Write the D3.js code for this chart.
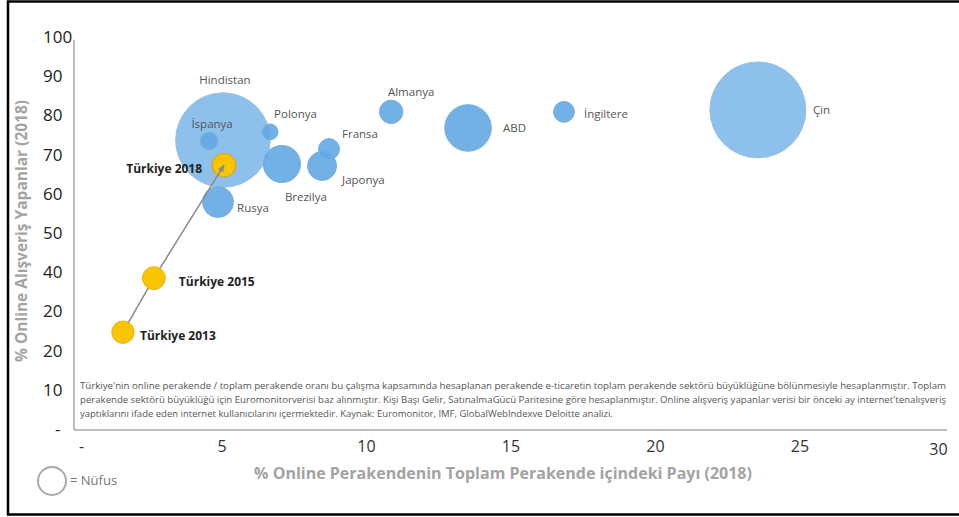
<!DOCTYPE html>
<html>
<head>
<meta charset="utf-8">
<script src="https://cdn.jsdelivr.net/npm/d3@7"></script>
<style>
  body { margin: 0; background: #fff; }
  svg { display: block; font-family: "Open Sans", sans-serif; }
</style>
</head>
<body>
<div class="chart"></div>
<script>
// countries (2018)
const countries = ["Hindistan", "Çin", "ABD", "Brezilya", "Rusya", "Japonya", "Almanya", "İngiltere", "Fransa", "İspanya", "Polonya"];
const onlineShare = [5.05, 23.56, 13.53, 7.09, 4.88, 8.48, 10.87, 16.85, 8.72, 4.57, 6.68];
const onlineShoppers = [73.7, 81.4, 76.8, 67.6, 57.9, 67.1, 80.9, 80.9, 71.4, 73.5, 75.8];
const population = [1353, 1393, 327, 209, 144, 127, 83, 66, 67, 46, 38];

// Türkiye over time
const turkeyLabels = ["Türkiye 2013", "Türkiye 2015", "Türkiye 2018"];
const turkeyShare = [1.59, 2.66, 5.09];
const turkeyShoppers = [24.7, 38.5, 67.3];
const turkeyPopulation = [76, 79, 82];

const xTicks = [0, 5, 10, 15, 20, 25, 30];
const xTickLabels = ["-", "5", "10", "15", "20", "25", "30"];
const yTicks = [0, 10, 20, 30, 40, 50, 60, 70, 80, 90, 100];
const yTickLabels = ["-", "10", "20", "20", "40", "50", "60", "70", "80", "90", "100"];

const footnote = [
  "Türkiye'nin online perakende / toplam perakende oranı bu çalışma kapsamında hesaplanan perakende e-ticaretin toplam perakende sektörü büyüklüğüne bölünmesiyle hesaplanmıştır. Toplam",
  "perakende sektörü büyüklüğü için Euromonitorverisi baz alınmıştır. Kişi Başı Gelir, SatınalmaGücü Paritesine göre hesaplanmıştır. Online alışveriş yapanlar verisi bir önceki ay internet'tenalışveriş",
  "yaptıklarını ifade eden internet kullanıcılarını içermektedir. Kaynak: Euromonitor, IMF, GlobalWebIndexve Deloitte analizi."
];

// label placement relative to bubble centre
const labelPos = {
  "Hindistan": [2, -60, "middle"],
  "İspanya": [3, -17, "middle"],
  "Polonya": [4, -18, "start"],
  "Brezilya": [3, 33, "start"],
  "Rusya": [19, 6, "start"],
  "Japonya": [20, 14, "start"],
  "Fransa": [13, -15, "start"],
  "Almanya": [20, -20, "middle"],
  "ABD": [35, 0, "start"],
  "İngiltere": [20, 2, "start"],
  "Çin": [55, 0, "start"],
  "Türkiye 2013": [17, 4, "start"],
  "Türkiye 2015": [25, 4, "start"],
  "Türkiye 2018": [-22, 4, "end"]
};

const width = 959, height = 517;

const svg = d3.select(".chart").append("svg")
  .attr("width", width)
  .attr("height", height);

svg.append("defs").append("marker")
  .attr("id", "arrow")
  .attr("viewBox", "0 0 10 10")
  .attr("refX", 9).attr("refY", 5)
  .attr("markerWidth", 5).attr("markerHeight", 5)
  .attr("orient", "auto")
  .append("path")
  .attr("d", "M0,1 L10,5 L0,9 Z")
  .attr("fill", "#8a8a8a");

// frame (no right edge in the picture)
svg.append("path")
  .attr("d", `M${width},1.5 H8 V514.5 H${width}`)
  .attr("fill", "none")
  .attr("stroke", "#000")
  .attr("stroke-width", 2.5);

const x = d3.scaleLinear().domain([0, 30]).range([77, 944]);
const y = d3.scaleLinear().domain([0, 100]).range([429, 37]);
const r = d3.scaleSqrt().domain([0, 1393]).range([0, 48]);

// axes
const xAxis = d3.axisBottom(x).tickValues(xTicks).tickSize(0)
  .tickFormat((d, i) => xTickLabels[i]);
const gx = svg.append("g").attr("transform", "translate(0,430)").call(xAxis);
gx.select(".domain").attr("d", "M74,0 H947").attr("stroke", "#a8a8a8").attr("stroke-width", 1.5);
gx.selectAll("text")
  .attr("y", 16)
  .attr("dy", "0.35em")
  .attr("dx", d => d === 0 ? 4 : d === 30 ? -6 : 0)
  .attr("transform", d => d === 30 ? "translate(0,3)" : null)
  .style("font-family", "Open Sans").style("font-size", "16px").attr("fill", "#333");

const yAxis = d3.axisLeft(y).tickValues(yTicks).tickSize(0)
  .tickFormat((d, i) => yTickLabels[i]);
const gy = svg.append("g").attr("transform", "translate(74,0)").call(yAxis);
gy.select(".domain").attr("d", "M0,40 V430").attr("stroke", "#a8a8a8").attr("stroke-width", 1.5);
gy.selectAll("text")
  .attr("x", d => d === 0 ? -19 : -31)
  .attr("text-anchor", "start")
  .style("font-family", "Open Sans").style("font-size", "17px").attr("fill", "#222");

// axis titles
svg.append("text")
  .attr("transform", "translate(27,231) rotate(-90)")
  .attr("text-anchor", "middle")
  .style("font-size", "15.5px").style("font-weight", "bold")
  .attr("fill", "#a3a3a3")
  .text("% Online Alışveriş Yapanlar (2018)");

svg.append("text")
  .attr("x", 503).attr("y", 479)
  .attr("text-anchor", "middle")
  .style("font-size", "16px").style("font-weight", "bold")
  .attr("fill", "#a3a3a3")
  .text("% Online Perakendenin Toplam Perakende içindeki Payı (2018)");

// footnote
svg.append("g").selectAll("text")
  .data(footnote)
  .join("text")
  .attr("x", 80)
  .attr("y", (d, i) => 389 + i * 14)
  .attr("textLength", (d, i) => i < 2 ? 866 : null)
  .attr("lengthAdjust", "spacingAndGlyphs")
  .style("font-size", "9.5px")
  .attr("fill", "#555")
  .text(d => d);

// country bubbles, biggest first
const data = countries.map((c, i) => ({
  name: c, share: onlineShare[i], shoppers: onlineShoppers[i], pop: population[i]
})).sort((a, b) => b.pop - a.pop);

svg.append("g").selectAll("circle")
  .data(data)
  .join("circle")
  .attr("cx", d => x(d.share))
  .attr("cy", d => y(d.shoppers))
  .attr("r", d => r(d.pop))
  .attr("fill", d => d.pop > 1000 ? "#8dc0ea" : "#62a8e2")
  .attr("fill-opacity", d => d.pop > 1000 ? 1 : 0.9)
  .attr("stroke", d => d.pop > 1000 ? "#9cc4e4" : "#78b0dc")
  .attr("stroke-width", 1);

svg.append("g").selectAll("text")
  .data(data)
  .join("text")
  .attr("x", d => x(d.share) + labelPos[d.name][0])
  .attr("y", d => y(d.shoppers) + labelPos[d.name][1])
  .attr("text-anchor", d => labelPos[d.name][2])
  .attr("dy", "0.35em")
  .style("font-size", "11.5px")
  .attr("fill", "#555")
  .text(d => d.name);

// Türkiye path
const turkey = turkeyLabels.map((t, i) => ({
  name: t, share: turkeyShare[i], shoppers: turkeyShoppers[i], pop: turkeyPopulation[i]
}));

const tg = svg.append("g");
tg.append("circle")
  .datum(turkey[2])
  .attr("cx", d => x(d.share)).attr("cy", d => y(d.shoppers)).attr("r", d => r(d.pop))
  .attr("fill", "#f8c500").attr("stroke", "#e8a21a").attr("stroke-width", 1.2);

tg.append("path")
  .datum(turkey)
  .attr("d", d3.line().x(d => x(d.share)).y(d => y(d.shoppers)))
  .attr("fill", "none")
  .attr("stroke", "#8a8a8a")
  .attr("stroke-width", 1.5)
  .attr("marker-end", "url(#arrow)");

tg.selectAll(".early")
  .data(turkey.slice(0, 2))
  .join("circle")
  .attr("class", "early")
  .attr("cx", d => x(d.share)).attr("cy", d => y(d.shoppers)).attr("r", d => r(d.pop))
  .attr("fill", "#f8c500").attr("stroke", "#e8b21a").attr("stroke-width", 1);

tg.selectAll("text")
  .data(turkey)
  .join("text")
  .attr("x", d => x(d.share) + labelPos[d.name][0])
  .attr("y", d => y(d.shoppers) + labelPos[d.name][1])
  .attr("text-anchor", d => labelPos[d.name][2])
  .attr("dy", "0.35em")
  .style("font-size", "12px").style("font-weight", "bold")
  .attr("fill", "#222")
  .text(d => d.name);

// legend
svg.append("circle")
  .attr("cx", 52).attr("cy", 481).attr("r", 14)
  .attr("fill", "none").attr("stroke", "#aaa").attr("stroke-width", 2);
svg.append("text")
  .attr("x", 70).attr("y", 485)
  .style("font-size", "13px")
  .attr("fill", "#777")
  .text("= Nüfus");
</script>
</body>
</html>
